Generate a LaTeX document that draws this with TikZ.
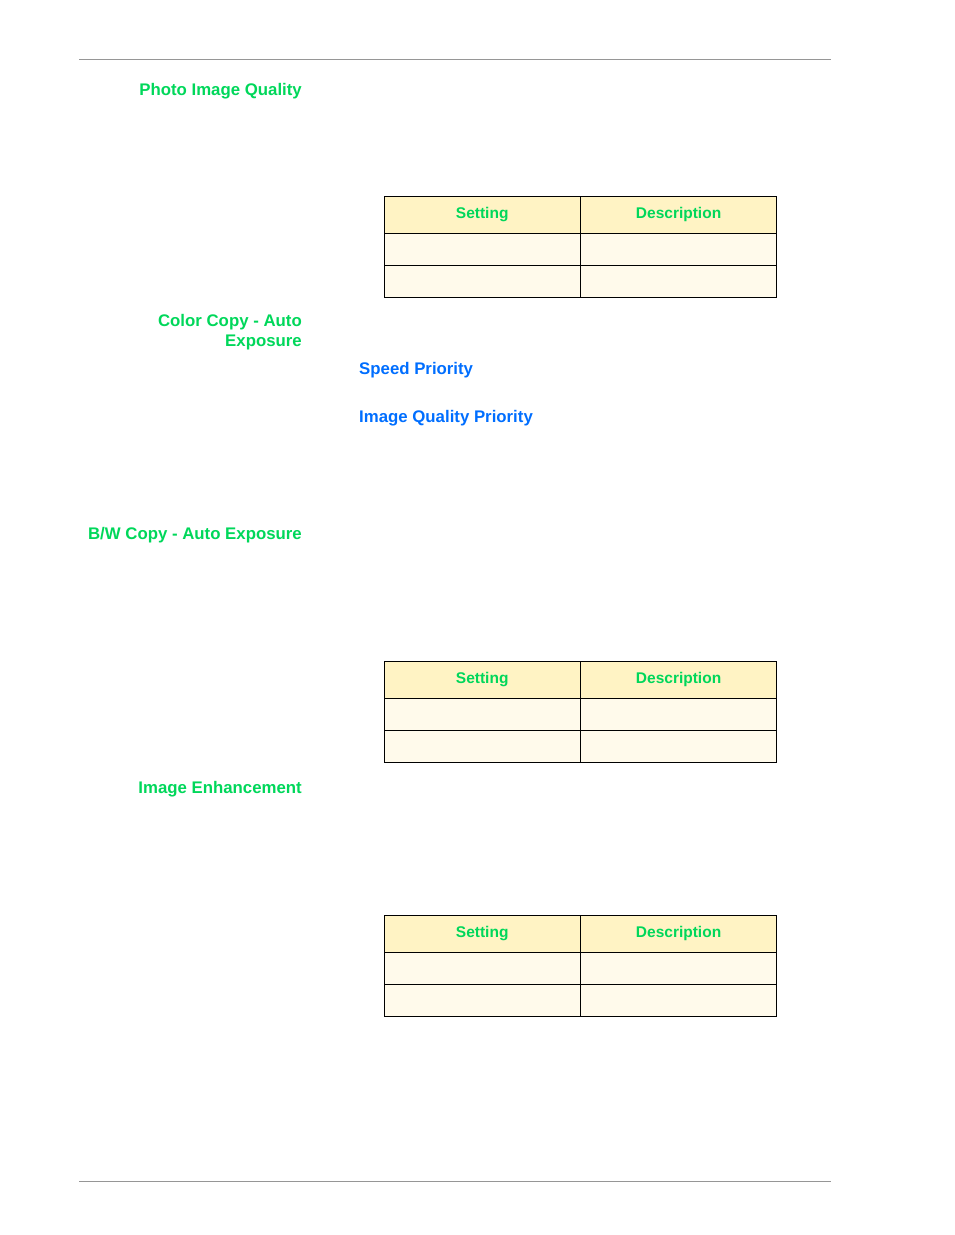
\documentclass[tikz,border=0pt]{standalone}
\usepackage{fontspec}
\setmainfont{Liberation Sans}
\definecolor{headgreen}{RGB}{0,215,90}
\definecolor{linkblue}{RGB}{0,110,255}
\definecolor{headfill}{RGB}{255,243,196}
\definecolor{bodyfill}{RGB}{255,250,235}
\definecolor{rulegray}{RGB}{150,150,150}

\begin{document}
\begin{tikzpicture}[x=1pt,y=-1pt,
heading/.style={
	% right aligned side headings
	anchor=base east,align=right,font=\bfseries\fontsize{16.8}{20}\selectfont,
	text=headgreen,inner sep=0pt},
subheading/.style={
	anchor=base west,font=\bfseries\fontsize{16.8}{20}\selectfont,
	text=linkblue,inner sep=0pt},
headcell/.style={
	rectangle,draw=black,fill=headfill,minimum width=196pt,minimum height=37pt,
	font=\bfseries\fontsize{15.5}{18}\selectfont,text=headgreen,anchor=north west},
bodycell/.style={
	rectangle,draw=black,fill=bodyfill,minimum width=196pt,minimum height=31.5pt,
	anchor=north west}]
\useasboundingbox (0,0) rectangle (954,1235);

% page rules
\coordinate (ruleA) at (79,59);
\coordinate (ruleB) at (831,59);
\coordinate (ruleC) at (79,1181);
\coordinate (ruleD) at (831,1181);
\draw[rulegray] (ruleA) -- (ruleB);
\draw[rulegray] (ruleC) -- (ruleD);

% side headings
\node (photo) [heading] at (302,95) {Photo Image Quality};
\node (color) [heading] at (302,326) {Color Copy - Auto};
\node (color2) [heading] at (302,346) {Exposure};
\node (bw) [heading] at (302,539) {B/W Copy - Auto Exposure};
\node (enh) [heading] at (302,793) {Image Enhancement};
\node (speed) [subheading] at (359,374) {Speed Priority};
\node (qual) [subheading] at (359,422) {Image Quality Priority};

% tables
\foreach \t/\y in {1/196,2/661,3/915}{
	\node (set\t) [headcell] at (384,\y) {Setting};
	\node (desc\t) [headcell] at (set\t.north east) {Description};
	\node (rowa\t) [bodycell] at (set\t.south west) {};
	\node (rowb\t) [bodycell] at (rowa\t.north east) {};
	\node (rowc\t) [bodycell] at (rowa\t.south west) {};
	\node (rowd\t) [bodycell] at (rowc\t.north east) {};
}
\end{tikzpicture}
\end{document}
